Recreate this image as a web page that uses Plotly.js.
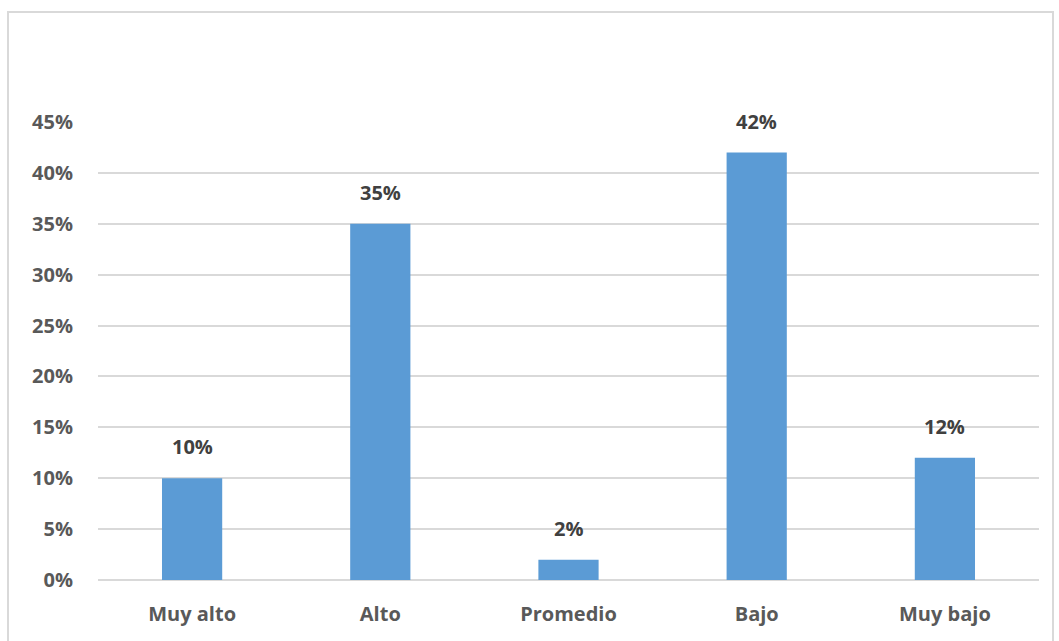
<!DOCTYPE html>
<html>
<head>
<meta charset="utf-8">
<script src="https://cdn.plot.ly/plotly-3.0.1.min.js"></script>
<style>
html,body{margin:0;padding:0;background:#fff;}
#wrap{position:relative;width:1059px;height:641px;overflow:hidden;}
#chart{width:1059px;height:641px;}
#frame{position:absolute;left:7px;top:11px;width:1047px;height:640px;border:2px solid #d9d9d9;pointer-events:none;box-sizing:border-box;}
</style>
</head>
<body>
<div id="wrap">
<div id="chart"></div>
<div id="frame"></div>
</div>
<script>
const categories = ["Muy alto", "Alto", "Promedio", "Bajo", "Muy bajo"];
const values = [0.10, 0.35, 0.02, 0.42, 0.12];
const labels = ["10%", "35%", "2%", "42%", "12%"];

const labelFont = {family: "Open Sans, sans-serif", size: 20, color: "#404040", weight: "bold"};
const tickFont = {family: "Open Sans, sans-serif", size: 20, color: "#595959", weight: "bold"};

const trace = {
  type: "bar",
  x: categories,
  y: values,
  marker: {color: "#5B9BD5"},
  hoverinfo: "none"
};

const annotations = categories.map((c, i) => ({
  x: c,
  y: values[i],
  xref: "x",
  yref: "y",
  text: labels[i],
  showarrow: false,
  yanchor: "bottom",
  yshift: 16,
  font: labelFont
}));

const layout = {
  width: 1059,
  height: 641,
  margin: {l: 98, r: 20, t: 122, b: 61},
  paper_bgcolor: "#fff",
  plot_bgcolor: "#fff",
  bargap: 0.68,
  showlegend: false,
  annotations: annotations,
  font: tickFont,
  xaxis: {
    showgrid: false,
    zeroline: false,
    showline: false,
    ticks: "",
    ticklabelstandoff: 20,
    tickfont: tickFont,
    fixedrange: true
  },
  yaxis: {
    range: [0, 0.45],
    dtick: 0.05,
    tickformat: ".0%",
    showgrid: true,
    gridcolor: "#d9d9d9",
    gridwidth: 2,
    zeroline: true,
    zerolinecolor: "#d9d9d9",
    zerolinewidth: 2,
    showline: false,
    ticks: "",
    ticklabelstandoff: 24,
    tickfont: tickFont,
    fixedrange: true
  }
};

Plotly.newPlot("chart", [trace], layout, {displayModeBar: false, staticPlot: true});
</script>
</body>
</html>
